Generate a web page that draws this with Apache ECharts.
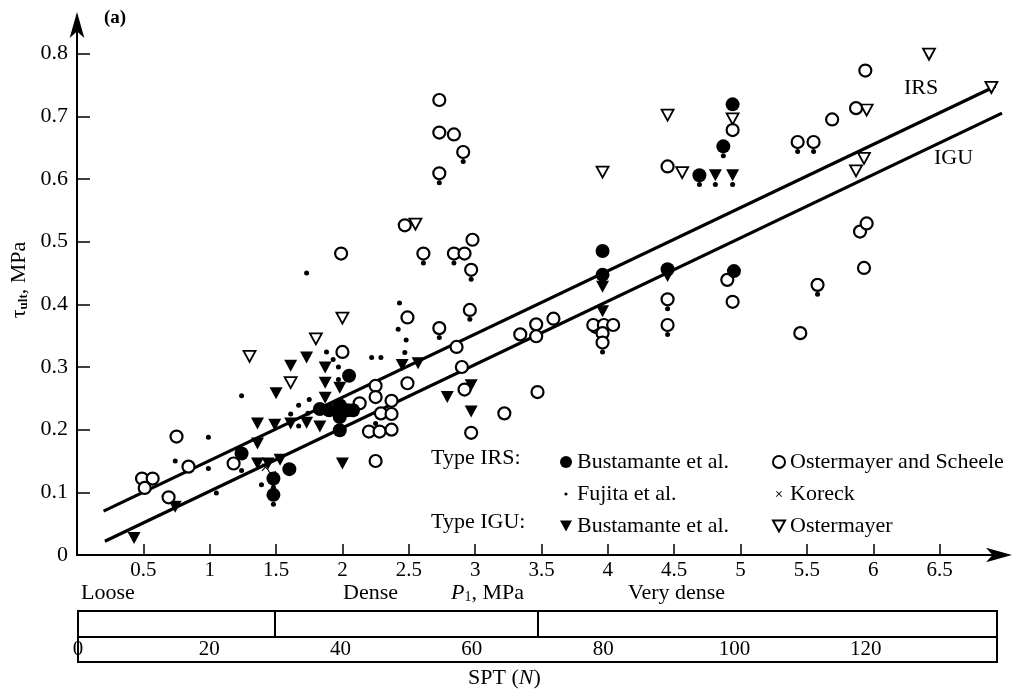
<!DOCTYPE html>
<html>
<head>
<meta charset="utf-8">
<script src="https://cdn.jsdelivr.net/npm/echarts@6/dist/echarts.min.js"></script>
<style>
  html, body { margin: 0; background: #fff; }
  #chart { width: 1022px; height: 693px; }
</style>
</head>
<body>
<div id="chart"></div>
<script>
// values: [P1 (MPa), tau_ult (MPa)]
const bustamanteIRS = [
  [1.24, 0.162], [1.48, 0.122], [1.48, 0.096], [1.60, 0.137], [1.83, 0.233], [1.90, 0.231],
  [1.98, 0.239], [2.04, 0.231], [2.08, 0.231], [1.98, 0.220], [1.98, 0.199], [2.05, 0.286],
  [3.96, 0.485], [3.96, 0.447], [4.45, 0.456], [4.95, 0.453], [4.94, 0.719], [4.87, 0.652],
  [4.69, 0.606]
];
const ostermayerScheele = [
  [0.49, 0.122], [0.57, 0.122], [0.51, 0.107], [0.75, 0.189], [0.84, 0.141], [0.69, 0.092],
  [1.18, 0.146], [2.00, 0.324], [1.99, 0.481], [2.25, 0.150],
  [2.73, 0.726], [2.73, 0.674], [2.84, 0.671], [2.91, 0.643], [2.73, 0.609], [2.47, 0.526],
  [2.61, 0.481], [2.84, 0.481], [2.92, 0.481], [2.98, 0.503], [2.97, 0.455], [2.96, 0.391],
  [2.49, 0.379], [2.73, 0.362], [2.86, 0.332], [2.90, 0.300], [2.49, 0.274], [2.25, 0.270],
  [2.25, 0.252], [2.37, 0.246], [2.13, 0.242], [2.29, 0.226], [2.37, 0.225], [2.20, 0.197],
  [2.28, 0.197], [2.37, 0.200], [2.97, 0.195], [2.92, 0.264], [3.22, 0.226], [3.34, 0.352],
  [3.46, 0.368], [3.46, 0.349], [3.59, 0.377], [3.47, 0.260], [3.91, 0.364],
  [4.94, 0.678], [4.45, 0.620], [4.90, 0.439], [4.94, 0.404], [4.45, 0.408], [4.45, 0.367],
  [3.89, 0.367], [3.97, 0.367], [4.04, 0.367], [3.96, 0.354], [3.96, 0.339],
  [5.45, 0.354], [5.58, 0.431], [5.43, 0.659], [5.55, 0.659], [5.69, 0.695], [5.87, 0.713],
  [5.94, 0.773], [5.90, 0.516], [5.95, 0.529], [5.93, 0.458]
];
const fujita = [
  [1.24, 0.254], [0.99, 0.188], [0.74, 0.150], [0.99, 0.138], [1.05, 0.099], [1.24, 0.135],
  [1.48, 0.081], [1.39, 0.112], [1.67, 0.239], [1.75, 0.248], [1.61, 0.225], [1.74, 0.226],
  [1.67, 0.206], [1.88, 0.324], [1.93, 0.312], [1.97, 0.300], [1.97, 0.280], [1.73, 0.450],
  [2.22, 0.315], [2.29, 0.315], [2.43, 0.402], [2.42, 0.360], [2.48, 0.343], [2.47, 0.323],
  [2.73, 0.594], [2.91, 0.628], [2.61, 0.466], [2.84, 0.466], [2.97, 0.440], [2.96, 0.376],
  [2.73, 0.347], [4.45, 0.393], [4.45, 0.352], [3.96, 0.324], [5.58, 0.416], [4.69, 0.591],
  [4.81, 0.591], [4.94, 0.591], [4.87, 0.637], [5.43, 0.644], [5.55, 0.644], [1.48, 0.108],
  [2.25, 0.210]
];
const koreck = [[1.42, 0.140], [1.47, 0.128]];
const bustamanteIGU = [
  [0.43, 0.027], [0.74, 0.077], [1.36, 0.210], [1.49, 0.208], [1.61, 0.210], [1.73, 0.211],
  [1.83, 0.205], [1.36, 0.146], [1.44, 0.146], [1.53, 0.152], [1.50, 0.258], [1.61, 0.302],
  [1.73, 0.315], [1.87, 0.299], [1.87, 0.275], [1.87, 0.251], [1.98, 0.267], [2.00, 0.146],
  [1.98, 0.221], [2.45, 0.303], [2.57, 0.306], [2.79, 0.252], [2.97, 0.271], [2.97, 0.229],
  [3.96, 0.428], [3.96, 0.389], [4.81, 0.606], [4.94, 0.606], [1.36, 0.178], [4.45, 0.445]
];
const ostermayer = [
  [1.30, 0.317], [1.80, 0.345], [1.61, 0.275], [2.00, 0.378], [2.55, 0.528], [3.96, 0.611],
  [4.45, 0.702], [4.56, 0.610], [4.94, 0.696], [5.95, 0.710], [6.42, 0.799], [6.89, 0.746],
  [5.93, 0.633], [5.87, 0.613]
];
const irsLine = [[0.20, 0.070], [6.92, 0.748]];
const iguLine = [[0.21, 0.022], [6.97, 0.705]];

const p1Ticks = [0.5, 1, 1.5, 2, 2.5, 3, 3.5, 4, 4.5, 5, 5.5, 6, 6.5];
const tauTicks = [0, 0.1, 0.2, 0.3, 0.4, 0.5, 0.6, 0.7, 0.8];
const sptTicks = [0, 20, 40, 60, 80, 100, 120];
const densityBounds = [30, 70];   // SPT N: loose | dense | very dense

const FONT = 'Liberation Serif';
const DOWN = 'path://M0,0L10,0L5,9Z';
const CROSS = 'path://M1,0L5,4L9,0L10,1L6,5L10,9L9,10L5,6L1,10L0,9L4,5L0,1Z';
const SMALL_DOT = 'path://M0,0h.1v.1h-.1zM30,30h.1v.1h-.1zM11,15a4,4 0 1,0 8,0a4,4 0 1,0 -8,0z';
const SMALL_CROSS = 'path://M0,0h.1v.1h-.1zM20,20h.1v.1h-.1zM6,5L10,9L14,5L15,6L11,10L15,14L14,15L10,11L6,15L5,14L9,10L5,6Z';

const hollow = { color: '#fff', borderColor: '#000', borderWidth: 2.2, opacity: 1 };
const solid = { color: '#000', opacity: 1 };
const txt = (text, left, top, size) => ({ type: 'text', left, top,
  style: { text, font: (size || 22) + 'px ' + FONT, fill: '#000' } });

const chart = echarts.init(document.getElementById('chart'));
chart.setOption({
  animation: false,
  textStyle: { fontFamily: FONT, color: '#000' },
  grid: [
    { left: 77, right: 16, top: 16, bottom: 138 },
    { left: 78, right: 25, top: 611, height: 51, show: true, borderColor: '#000', borderWidth: 2 }
  ],
  xAxis: [{
    gridIndex: 0, type: 'value', min: 0, max: 7, interval: 0.5,
    splitLine: { show: false },
    axisLine: { lineStyle: { color: '#000', width: 2 }, symbol: ['none', 'arrow'], symbolSize: [11, 26], symbolOffset: [0, 6] },
    axisTick: { inside: true, length: 11, lineStyle: { color: '#000', width: 1.5 }, customValues: p1Ticks },
    axisLabel: { color: '#000', fontFamily: FONT, fontSize: 21, margin: 5, customValues: p1Ticks }
  }, {
    gridIndex: 1, type: 'value', min: 0, max: 140, interval: 20,
    splitLine: { show: false }, axisLine: { show: false }, axisTick: { show: false },
    axisLabel: { inside: true, margin: 2, color: '#000', fontFamily: FONT, fontSize: 21, customValues: sptTicks }
  }],
  yAxis: [{
    gridIndex: 0, type: 'value', min: 0, max: 0.86, interval: 0.1,
    splitLine: { show: false },
    axisLine: { lineStyle: { color: '#000', width: 2 }, symbol: ['none', 'arrow'], symbolSize: [11, 26], symbolOffset: [0, 4] },
    axisTick: { inside: true, length: 13, lineStyle: { color: '#000', width: 1.5 }, customValues: tauTicks.slice(1) },
    axisLabel: { color: '#000', fontFamily: FONT, fontSize: 22, margin: 9, customValues: tauTicks,
      formatter: v => String(+v.toFixed(1)) }
  }, {
    gridIndex: 1, type: 'value', min: 0, max: 2, show: false
  }],
  legend: [{
    orient: 'vertical', left: 555, top: 446, itemGap: 10, itemWidth: 12, itemHeight: 12,
    textStyle: { fontFamily: FONT, fontSize: 22, color: '#000' },
    formatter: n => n.replace(/ \(.*\)$/, ''),
    data: [
      { name: 'Bustamante et al. (IRS)', icon: 'circle' },
      { name: 'Fujita et al.', icon: SMALL_DOT },
      { name: 'Bustamante et al. (IGU)', icon: DOWN }
    ]
  }, {
    orient: 'vertical', left: 767, top: 446, itemGap: 10, itemWidth: 12, itemHeight: 12,
    textStyle: { fontFamily: FONT, fontSize: 22, color: '#000' },
    data: [
      { name: 'Ostermayer and Scheele', icon: 'circle' },
      { name: 'Koreck', icon: SMALL_CROSS },
      { name: 'Ostermayer', icon: DOWN }
    ]
  }],
  graphic: [
    { type: 'text', left: 104, top: 9, style: { text: '(a)', font: 'bold 19px ' + FONT, fill: '#000' } },
    txt('IRS', 904, 77), txt('IGU', 934, 147),
    txt('Type IRS:', 431, 447), txt('Type IGU:', 431, 511),
    txt('Loose', 81, 582), txt('Dense', 343, 582), txt('Very dense', 628, 582),
    { type: 'text', left: 451, top: 582, style: {
      text: '{i|P}{s|1}{n|, MPa}',
      rich: {
        i: { font: 'italic 22px ' + FONT, fill: '#000' },
        s: { font: '14px ' + FONT, fill: '#000', padding: [9, 0, 0, 0] },
        n: { font: '22px ' + FONT, fill: '#000' }
      } } },
    { type: 'text', left: 468, top: 667, style: {
      text: '{n|SPT (}{i|N}{n|)}',
      rich: {
        i: { font: 'italic 22px ' + FONT, fill: '#000' },
        n: { font: '22px ' + FONT, fill: '#000' }
      } } },
    { type: 'text', x: 19, y: 280, rotation: Math.PI / 2, style: {
      text: '{t|τ}{s|ult}{t|, MPa}', align: 'center', verticalAlign: 'middle',
      rich: {
        t: { font: '22px ' + FONT, fill: '#000' },
        s: { font: 'bold 13px ' + FONT, fill: '#000', padding: [10, 0, 0, 0] }
      } } }
  ],
  series: [
    { name: 'IRS', type: 'line', data: irsLine, showSymbol: false, silent: true, z: 1,
      lineStyle: { color: '#000', width: 3.2 } },
    { name: 'IGU', type: 'line', data: iguLine, showSymbol: false, silent: true, z: 1,
      lineStyle: { color: '#000', width: 3.2 } },
    { name: 'Fujita et al.', type: 'scatter', data: fujita, symbol: 'circle', symbolSize: 5,
      itemStyle: solid, z: 3 },
    { name: 'Bustamante et al. (IGU)', type: 'scatter', data: bustamanteIGU, symbol: DOWN, symbolSize: [13, 12],
      itemStyle: solid, z: 4 },
    { name: 'Ostermayer', type: 'scatter', data: ostermayer, symbol: DOWN, symbolSize: [12, 11],
      itemStyle: { color: '#fff', borderColor: '#000', borderWidth: 1.8, opacity: 1 }, z: 4 },
    { name: 'Koreck', type: 'scatter', data: koreck, symbol: CROSS, symbolSize: 8,
      itemStyle: solid, z: 4 },
    { name: 'Ostermayer and Scheele', type: 'scatter', data: ostermayerScheele, symbol: 'circle', symbolSize: 12,
      itemStyle: hollow, z: 5 },
    { name: 'Bustamante et al. (IRS)', type: 'scatter', data: bustamanteIRS, symbol: 'circle', symbolSize: 14,
      itemStyle: solid, z: 6 },
    { name: 'density', type: 'line', xAxisIndex: 1, yAxisIndex: 1, data: [[0, 0]], showSymbol: false,
      lineStyle: { width: 0 }, silent: true,
      markLine: {
        silent: true, symbol: 'none', animation: false, label: { show: false },
        lineStyle: { color: '#000', width: 2, type: 'solid' },
        data: [{ yAxis: 1 }].concat(densityBounds.map(n => [{ coord: [n, 1] }, { coord: [n, 2] }]))
      } }
  ]
});
</script>
</body>
</html>
